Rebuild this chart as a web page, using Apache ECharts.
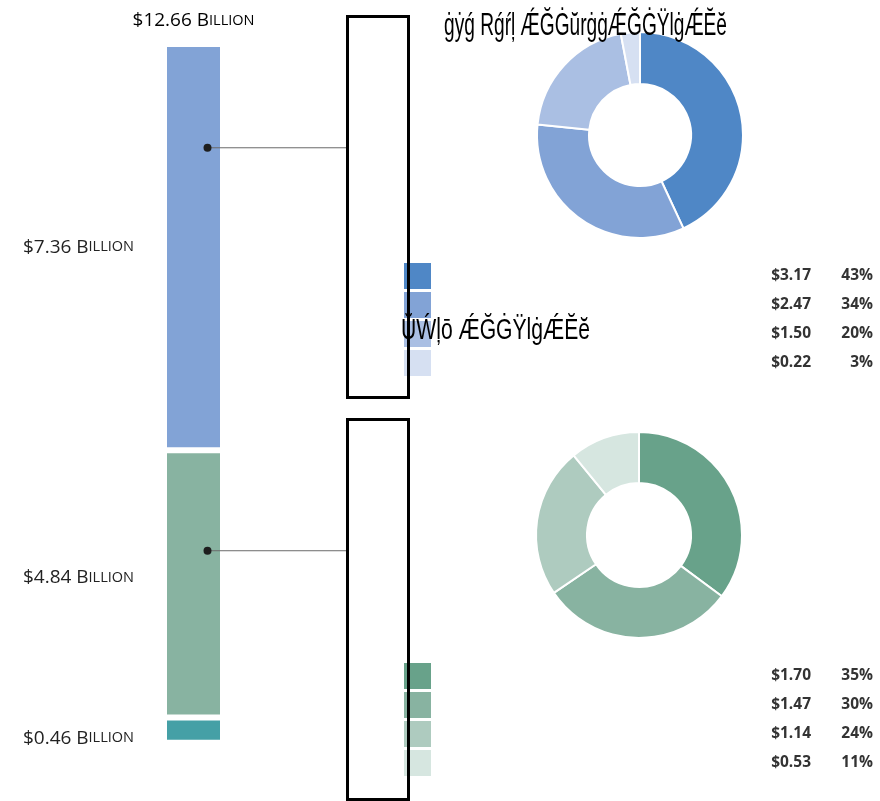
<!DOCTYPE html>
<html>
<head>
<meta charset="utf-8">
<script src="https://cdn.jsdelivr.net/npm/echarts@6/dist/echarts.min.js"></script>
<style>
  html, body { margin: 0; padding: 0; background: #fff; }
  #chart { width: 880px; height: 801px; }
</style>
</head>
<body>
<div id="chart"></div>
<script>
// Stacked total bar (billions), top to bottom
const barValues = [7.36, 4.84, 0.46];
const barColors = ['#82a3d6', '#88b3a1', '#45a0a6'];

// Breakdown of the first (blue) segment
const topPieValues = [3.17, 2.47, 1.50, 0.22];
const topPieColors = ['#4f87c6', '#82a3d6', '#aabfe3', '#d6e0f2'];

// Breakdown of the second (green) segment
const bottomPieValues = [1.70, 1.47, 1.14, 0.53];
const bottomPieColors = ['#68a28a', '#88b3a1', '#aecbbf', '#d6e6e0'];

// Headings as embedded in the source document
const headingTop = 'ġẏǵ Rǵŕļ ǼĞĠŭrġġǼĞĠŸlġǼĔĕ';
const headingMid = 'ŬẂļō ǼĞĠŸlġǼĔĕ';

const total = barValues.reduce((a, b) => a + b, 0);
const money = v => '$' + v.toFixed(2);
const LABEL_FONT = '"Open Sans", "Noto Sans", sans-serif';

function billionRich(v) {
  return '{n|' + money(v) + ' }{b|B}{s|ILLION}';
}
const billionStyles = {
  n: { fontSize: 19, color: '#222', fontFamily: LABEL_FONT },
  b: { fontSize: 19, color: '#222', fontFamily: LABEL_FONT },
  s: { fontSize: 14.5, color: '#222', fontFamily: LABEL_FONT }
};
// Vertical nudge of each segment label
const labelNudge = [0, -6, 8];

const chart = echarts.init(document.getElementById('chart'), null, { renderer: 'canvas' });

const barSeries = barValues.map((v, i) => ({
  type: 'bar',
  stack: 'total',
  barWidth: 59,
  data: [v],
  itemStyle: { color: barColors[i], borderColor: '#fff', borderWidth: 3 },
  label: {
    show: true,
    position: 'left',
    distance: 30,
    offset: [0, labelNudge[i]],
    formatter: () => billionRich(v),
    rich: billionStyles
  },
  silent: true
}));

function pieData(values, colors) {
  return values.map((v, i) => ({
    name: money(v),
    value: v,
    itemStyle: { color: colors[i] }
  }));
}

function legendFor(values, top) {
  const sum = values.reduce((a, b) => a + b, 0);
  const pct = {};
  values.forEach(v => { pct[money(v)] = Math.round(v / sum * 100) + '%'; });
  return {
    orient: 'vertical',
    left: 404,
    top: top,
    padding: 0,
    icon: 'rect',
    itemWidth: 27,
    itemHeight: 26,
    itemGap: 3,
    itemStyle: { borderWidth: 0 },
    selectedMode: false,
    data: values.map(money),
    formatter: name => '{s|}{v|' + name + '}{p|' + pct[name] + '}',
    textStyle: {
      rich: {
        s: { width: 328 },
        v: { width: 47, align: 'right', fontSize: 15.5, fontWeight: 'bold', color: '#333', fontFamily: LABEL_FONT },
        p: { width: 62, align: 'right', fontSize: 15.5, fontWeight: 'bold', color: '#333', fontFamily: LABEL_FONT }
      }
    }
  };
}

chart.setOption({
  animation: false,
  grid: { left: 164, top: 44, width: 59, height: total * 55.2 },
  xAxis: { type: 'category', data: [''], show: false },
  yAxis: { type: 'value', inverse: true, min: 0, max: total, show: false },
  legend: [legendFor(topPieValues, 263), legendFor(bottomPieValues, 663)],
  series: barSeries.concat([
    {
      type: 'pie',
      center: [640, 135],
      radius: [51, 103],
      startAngle: 90,
      label: { show: false },
      labelLine: { show: false },
      itemStyle: { borderColor: '#fff', borderWidth: 2 },
      silent: true,
      data: pieData(topPieValues, topPieColors)
    },
    {
      type: 'pie',
      center: [639, 535],
      radius: [52, 103],
      startAngle: 90,
      label: { show: false },
      labelLine: { show: false },
      itemStyle: { borderColor: '#fff', borderWidth: 2 },
      silent: true,
      data: pieData(bottomPieValues, bottomPieColors)
    }
  ])
});

// Fit a heading to a given width by horizontal scaling
const measureCtx = document.createElement('canvas').getContext('2d');
function headingElement(text, x, y, size, width) {
  measureCtx.font = size + 'px "Liberation Sans", Arial, sans-serif';
  const w = measureCtx.measureText(text).width;
  return {
    type: 'text',
    x: x, y: y,
    scaleX: width / w,
    z: 100,
    style: {
      text: text,
      fill: '#000',
      font: size + 'px "Liberation Sans", Arial, sans-serif',
      textVerticalAlign: 'middle'
    }
  };
}

// Connector: dot inside a bar segment, line out to its bracket box
function connector(segIndex, offset) {
  const start = barValues.slice(0, segIndex).reduce((a, b) => a + b, 0);
  const p = chart.convertToPixel({ gridIndex: 0 }, [0, start + offset]);
  const dotX = p[0] + 14;
  return [
    { type: 'line', z: 50, shape: { x1: dotX, y1: p[1], x2: 347, y2: p[1] }, style: { stroke: '#6a6a6a', lineWidth: 1 } },
    { type: 'circle', z: 51, shape: { cx: dotX, cy: p[1], r: 4 }, style: { fill: '#1e1e1e' } }
  ];
}

const totalPos = chart.convertToPixel({ gridIndex: 0 }, [0, 0]);

chart.setOption({
  graphic: [
    {
      type: 'text',
      x: totalPos[0], y: 21,
      style: {
        text: billionRich(total),
        rich: billionStyles,
        textAlign: 'center',
        textVerticalAlign: 'middle'
      }
    },
    ...connector(0, 1.88),
    ...connector(1, 1.82),
    { type: 'rect', z: 90, shape: { x: 347.5, y: 16.5, width: 61, height: 381 }, style: { fill: 'none', stroke: '#000', lineWidth: 3 } },
    { type: 'rect', z: 90, shape: { x: 347.5, y: 419.5, width: 61, height: 380 }, style: { fill: 'none', stroke: '#000', lineWidth: 3 } },
    headingElement(headingTop, 444, 26, 31, 283),
    headingElement(headingMid, 401, 331, 29, 189)
  ]
});
</script>
</body>
</html>
